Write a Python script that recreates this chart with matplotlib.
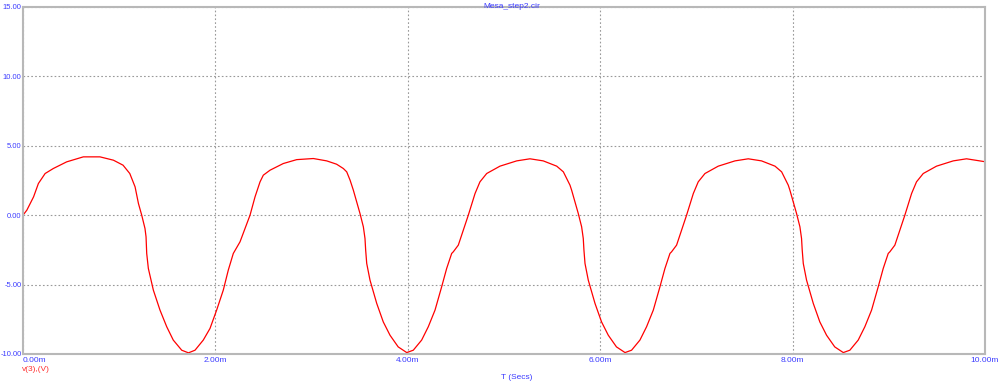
import numpy as np
import matplotlib
matplotlib.use('Agg')
import matplotlib.pyplot as plt

# v(3) trace, time in ms, volts
t_ms = [0.00, 0.04, 0.11, 0.16, 0.23, 0.315, 0.454, 0.627, 0.80, 0.94, 1.04, 1.11, 1.165, 1.20,
        1.234, 1.268, 1.279, 1.286, 1.303, 1.355, 1.424, 1.494, 1.562, 1.65, 1.72, 1.788, 1.874,
        1.944, 2.013, 2.082, 2.134, 2.186, 2.256, 2.308, 2.36, 2.412, 2.464, 2.498, 2.568, 2.706,
        2.845, 3.018, 3.157, 3.26, 3.33, 3.365, 3.40, 3.434, 3.503, 3.538, 3.555, 3.562, 3.573,
        3.607, 3.677, 3.745, 3.815, 3.90, 3.989, 4.057, 4.144, 4.213, 4.283, 4.352, 4.404, 4.456,
        4.473, 4.525, 4.577, 4.629, 4.699, 4.75, 4.82, 4.958, 5.132, 5.27, 5.408, 5.548, 5.617,
        5.686, 5.703, 5.772, 5.807, 5.824, 5.831, 5.842, 5.876, 5.946, 6.014, 6.084, 6.169, 6.258,
        6.326, 6.413, 6.482, 6.552, 6.621, 6.673, 6.725, 6.742, 6.794, 6.846, 6.898, 6.968, 7.019,
        7.089, 7.227, 7.401, 7.539, 7.677, 7.817, 7.886, 7.955, 7.972, 8.041, 8.076, 8.093, 8.100,
        8.111, 8.145, 8.215, 8.283, 8.353, 8.438, 8.527, 8.595, 8.682, 8.751, 8.821, 8.890, 8.942,
        8.994, 9.011, 9.063, 9.115, 9.167, 9.237, 9.288, 9.358, 9.496, 9.670, 9.808, 9.946, 10.0]
v3 = [0.00, 0.36, 1.32, 2.28, 3.00, 3.36, 3.84, 4.20, 4.20, 3.96, 3.60, 3.00, 2.04, 0.84,
      0.00, -0.96, -1.56, -2.76, -3.84, -5.40, -6.84, -8.04, -9.00, -9.73, -9.92, -9.73, -9.00,
      -8.16, -6.84, -5.40, -3.96, -2.76, -1.92, -0.96, 0.00, 1.32, 2.40, 2.88, 3.24, 3.72,
      4.00, 4.08, 3.91, 3.67, 3.36, 3.12, 2.52, 1.80, 0.12, -0.84, -1.68, -2.52, -3.48,
      -4.68, -6.36, -7.69, -8.65, -9.49, -9.90, -9.73, -9.00, -8.04, -6.84, -5.16, -3.84, -2.76,
      -2.64, -2.16, -1.08, 0.00, 1.56, 2.40, 3.00, 3.53, 3.91, 4.06, 3.91, 3.53, 3.12,
      2.16, 1.80, 0.12, -0.84, -1.68, -2.52, -3.48, -4.68, -6.36, -7.69, -8.65, -9.49, -9.90,
      -9.73, -9.00, -8.04, -6.84, -5.16, -3.84, -2.76, -2.64, -2.16, -1.08, 0.00, 1.56, 2.40,
      3.00, 3.53, 3.91, 4.06, 3.91, 3.53, 3.12, 2.16, 1.80, 0.12, -0.84, -1.68, -2.52,
      -3.48, -4.68, -6.36, -7.69, -8.65, -9.49, -9.90, -9.73, -9.00, -8.04, -6.84, -5.16, -3.84,
      -2.76, -2.64, -2.16, -1.08, 0.00, 1.56, 2.40, 3.00, 3.53, 3.91, 4.06, 3.91, 3.85]

x_ticks = [0, 2, 4, 6, 8, 10]
x_labels = ['0.00m', '2.00m', '4.00m', '6.00m', '8.00m', '10.00m']
y_ticks = [-10, -5, 0, 5, 10, 15]
y_labels = ['-10.00', '-5.00', '0.00', '5.00', '10.00', '15.00']

blue = '#3c3cff'
plt.rcParams['font.family'] = ['Liberation Sans', 'DejaVu Sans']

fig = plt.figure(figsize=(10, 3.86), dpi=100)
ax = fig.add_axes([0.023, 0.083, 0.962, 0.899])

ax.plot(t_ms, v3, color='#ff0000', linewidth=0.9)

ax.set_xlim(0, 10)
ax.set_ylim(-10, 15)
ax.set_xticks(x_ticks)
ax.set_xticklabels(x_labels)
ax.set_yticks(y_ticks)
ax.set_yticklabels(y_labels)
ax.tick_params(axis='x', length=0, labelsize=6, colors=blue, pad=2)
ax.tick_params(axis='y', length=0, labelsize=5.5, colors=blue, pad=1)
ax.get_xticklabels()[0].set_ha('left')

ax.grid(True, color='#999999', linestyle=(0, (1.5, 2)), linewidth=0.8)
for s in ax.spines.values():
    s.set_color('#b8b8b8')
    s.set_linewidth(1.5)

fig.text(0.512, 0.993, 'Mesa_step2.cir', color=blue, fontsize=6, ha='center', va='top')
fig.text(0.517, 0.023, 'T (Secs)', color=blue, fontsize=6, ha='center', va='center')
fig.text(0.022, 0.044, 'v(3),(V)', color='#ff3030', fontsize=6, ha='left', va='center')

plt.savefig('out.png', dpi=100)
